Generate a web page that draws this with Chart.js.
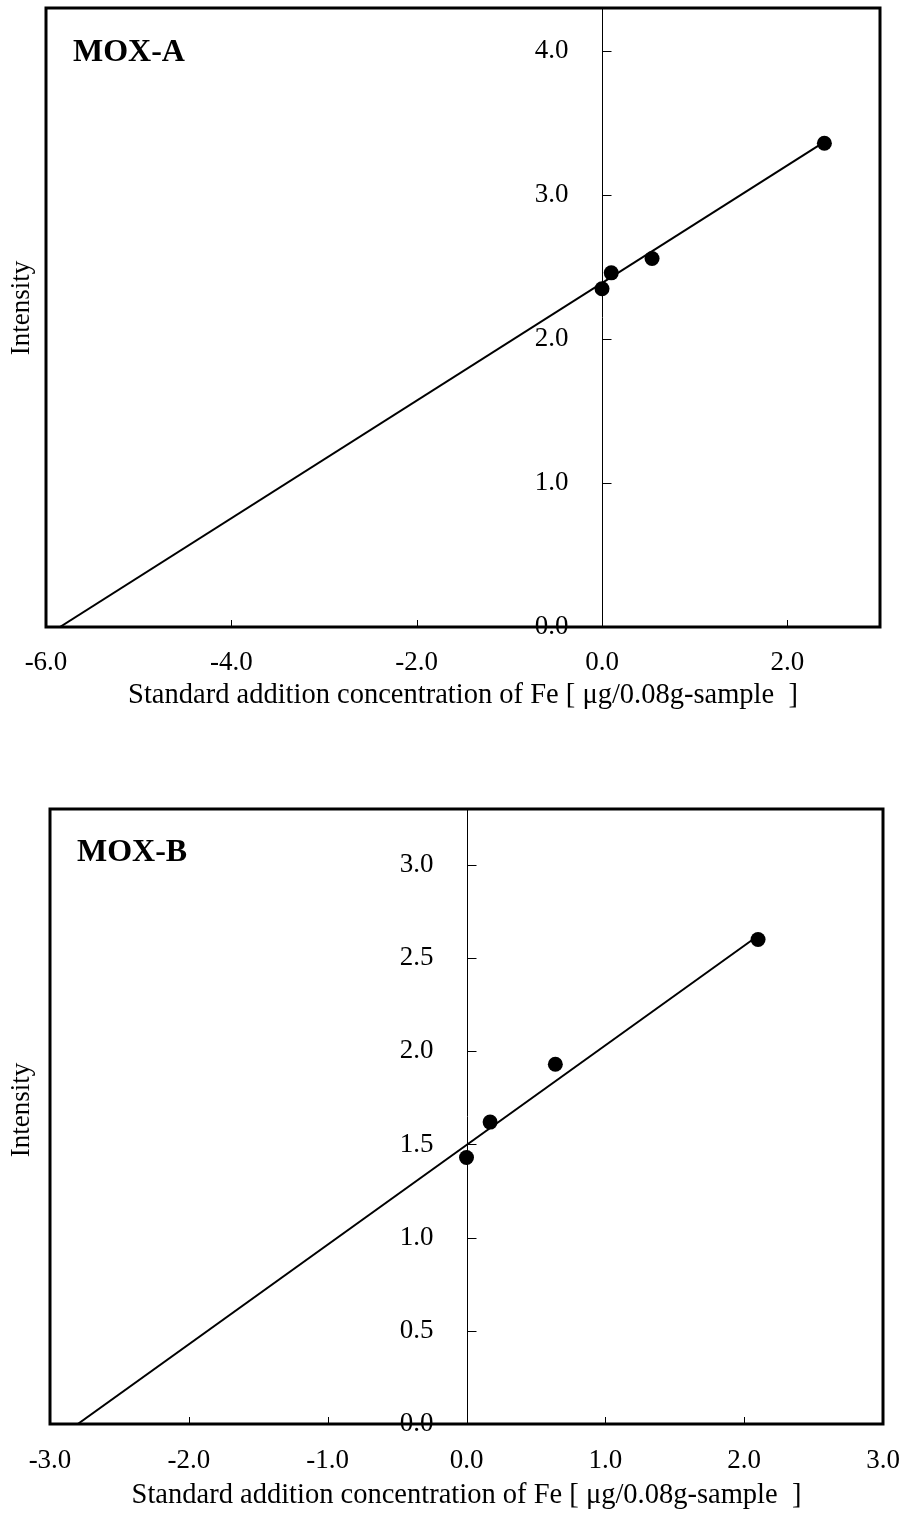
<!DOCTYPE html>
<html><head><meta charset="utf-8">
<script src="https://cdn.jsdelivr.net/npm/chart.js@4"></script>
<style>body{margin:0;background:#fff} canvas{display:block}</style>
</head><body>
<canvas id="cA" width="901" height="740"></canvas>
<canvas id="cB" width="901" height="777"></canvas>
<script>
const xTitle = 'Standard addition concentration of Fe [ μg/0.08g-sample  ]';
const yTitle = 'Intensity';

// MOX-A
const labelA = 'MOX-A';
const ptsAx = [0.0, 0.1, 0.54, 2.4];
const ptsAy = [2.35, 2.46, 2.56, 3.36];
const fitAx = [-5.85, 2.4];
const fitAy = [0.0, 3.37];
const xTicksA = [-6, -4, -2, 0, 2];
const yTicksA = [0, 1, 2, 3, 4];
const xRangeA = [-6, 3];
const yRangeA = [0, 4.3];

// MOX-B
const labelB = 'MOX-B';
const ptsBx = [0.0, 0.17, 0.64, 2.1];
const ptsBy = [1.43, 1.62, 1.93, 2.6];
const fitBx = [-2.8, 2.1];
const fitBy = [0.0, 2.62];
const xTicksB = [-3, -2, -1, 0, 1, 2, 3];
const yTicksB = [0, 0.5, 1.0, 1.5, 2.0, 2.5, 3.0];
const xRangeB = [-3, 3];
const yRangeB = [0, 3.3];

const FONT = '"Liberation Serif", "Times New Roman", serif';

const decor = {
  id: 'decor',
  afterDraw(chart, args, o) {
    const {ctx, chartArea: a, scales: {x, y}} = chart;
    ctx.save();
    ctx.strokeStyle = '#000';
    ctx.fillStyle = '#000';
    ctx.lineWidth = 1;
    const x0 = Math.round(x.getPixelForValue(0)) + 0.5;
    // y tick labels (left of the zero axis)
    ctx.font = '27px ' + FONT;
    ctx.textAlign = 'right';
    ctx.textBaseline = 'middle';
    y.ticks.forEach(t => {
      ctx.fillText(t.label, x0 - 34, y.getPixelForValue(t.value));
    });
    ctx.beginPath(); ctx.moveTo(x0, a.top); ctx.lineTo(x0, a.bottom); ctx.stroke();
    y.ticks.forEach(t => {
      const py = Math.round(y.getPixelForValue(t.value)) + 0.5;
      ctx.beginPath(); ctx.moveTo(x0, py); ctx.lineTo(x0 + 9, py); ctx.stroke();
    });
    x.ticks.forEach(t => {
      const px = Math.round(x.getPixelForValue(t.value)) + 0.5;
      ctx.beginPath(); ctx.moveTo(px, a.bottom); ctx.lineTo(px, a.bottom - 7); ctx.stroke();
    });
    ctx.lineWidth = 3;
    ctx.strokeRect(a.left, a.top, a.right - a.left, a.bottom - a.top);
    ctx.font = 'bold 32px ' + FONT;
    ctx.textAlign = 'left';
    ctx.fillText(o.label, o.lx, o.ly);
    ctx.translate(o.tx, o.ty);
    ctx.rotate(-Math.PI / 2);
    ctx.font = '27px ' + FONT;
    ctx.textAlign = 'center';
    ctx.fillText(yTitle, 0, 0);
    ctx.restore();
  }
};

function makeChart(id, c) {
  new Chart(document.getElementById(id), {
    data: {
      datasets: [
        {type: 'scatter', data: c.px.map((v, i) => ({x: v, y: c.py[i]})),
          pointRadius: 7.5, pointBackgroundColor: '#000', pointBorderColor: '#000', pointBorderWidth: 0, order: 0},
        {type: 'line', data: c.fx.map((v, i) => ({x: v, y: c.fy[i]})),
          borderColor: '#000', borderWidth: 2, pointRadius: 0, fill: false, tension: 0, order: 1}
      ]
    },
    options: {
      responsive: false, animation: false, devicePixelRatio: 1,
      layout: {padding: c.pad},
      plugins: {legend: {display: false}, tooltip: {enabled: false},
        decor: {label: c.label, lx: c.lx, ly: c.ly, tx: c.tx, ty: c.ty}},
      scales: {
        x: {
          type: 'linear', min: c.xr[0], max: c.xr[1],
          afterBuildTicks: s => { s.ticks = c.xt.map(v => ({value: v})); },
          afterFit: s => { s.height = c.xh; s.paddingLeft = 0; s.paddingRight = 0; },
          grid: {display: false, drawTicks: false}, border: {display: false},
          ticks: {padding: c.tp, color: '#000', font: {family: FONT, size: 27},
            callback: v => Number(v).toFixed(1), maxRotation: 0, autoSkip: false},
          title: {display: true, text: xTitle, color: '#000', font: {family: FONT, size: 28.5},
            padding: {top: 0, bottom: c.tpb}}
        },
        y: {
          type: 'linear', position: {x: 0}, min: c.yr[0], max: c.yr[1],
          afterBuildTicks: s => { s.ticks = c.yt.map(v => ({value: v})); },
          afterFit: s => { s.paddingTop = 0; s.paddingBottom = 0; },
          grid: {display: false, drawTicks: false}, border: {display: false},
          ticks: {display: false, color: '#000', font: {family: FONT, size: 27},
            callback: v => Number(v).toFixed(1), autoSkip: false}
        }
      }
    },
    plugins: [decor]
  });
}

makeChart('cA', {label: labelA, px: ptsAx, py: ptsAy, fx: fitAx, fy: fitAy,
  xt: xTicksA, yt: yTicksA, xr: xRangeA, yr: yRangeA,
  pad: {left: 46, right: 21, top: 8, bottom: 0}, xh: 113, tp: 20, tpb: 27,
  lx: 73, ly: 53, tx: 22, ty: 308});
makeChart('cB', {label: labelB, px: ptsBx, py: ptsBy, fx: fitBx, fy: fitBy,
  xt: xTicksB, yt: yTicksB, xr: xRangeB, yr: yRangeB,
  pad: {left: 50, right: 18, top: 69, bottom: 0}, xh: 93, tp: 21, tpb: 4,
  lx: 77, ly: 113, tx: 22, ty: 370});
</script>
</body></html>
